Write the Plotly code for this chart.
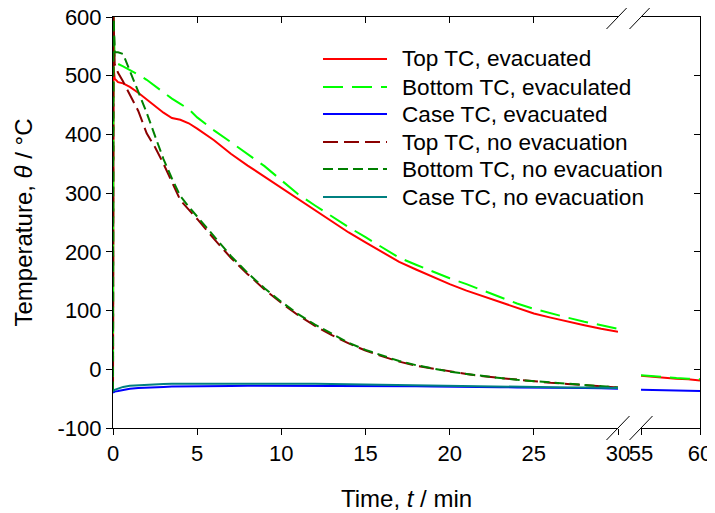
import plotly.graph_objects as go

# time axis (min) for the first 30 minutes
t_main = [0, 0.03, 0.1, 0.3, 0.6, 1, 1.5, 2, 2.5, 3, 3.5, 4, 4.5, 5, 6, 7, 8, 9, 10,
          11, 12, 13, 14, 15, 16, 17, 18, 19, 20, 21, 22, 23, 24, 25, 26, 27, 28, 29, 30]
# late readings after the break
t_late = [55, 56, 57, 58, 59, 60]

top_evac = [-38, 515, 495, 489, 487, 481, 471, 460, 449, 437, 428, 425, 419, 410, 390, 367, 347, 328, 308,
            290, 270, 251, 233, 216, 199, 183, 170, 157, 145, 134, 124, 114, 104, 95, 88, 81, 75, 69, 64]
bottom_evac = [-38, 610, 525, 520, 516, 510, 502, 493, 482, 471, 461, 452, 443, 429, 407, 387, 367, 346, 322,
               298, 279, 260, 242, 225, 207, 190, 178, 166, 155, 145, 134, 123, 112, 103, 95, 88, 81, 75, 69]
case_evac = [-40, -39, -38, -37, -35, -33, -32, -31, -30.5, -30, -29.5, -29.5, -29, -29, -28.5, -28.5, -28, -28, -28,
             -28, -28, -28.5, -28.5, -28.5, -29, -29, -29, -29.5, -29.5, -30, -30, -30.5, -31, -31, -31.5, -32, -32, -32.5, -33]
top_noevac = [-38, 610, 520, 505, 490, 468, 440, 402, 378, 350, 318, 288, 272, 256, 222, 190, 162, 136, 113,
              92, 74, 58, 44, 32, 22, 13, 6, 1, -4, -8, -12, -15, -18, -21, -23, -25, -27, -29, -31]
bottom_noevac = [-38, 610, 540, 540, 537, 508, 475, 437, 397, 358, 325, 295, 277, 260, 225, 193, 164, 138, 115,
                 94, 76, 60, 45, 33, 23, 14, 7, 1, -4, -8, -12, -15, -18, -20, -23, -25, -27, -29, -31]
case_noevac = [-38, -37, -35, -33, -30, -28, -27, -26, -25.5, -25, -24.5, -24.5, -24, -24, -24, -23.5, -23.5, -24, -24,
               -24.5, -24.5, -25, -25.5, -26, -26, -26.5, -27, -27.5, -28, -28.5, -29, -29.5, -30, -30, -30.5, -31, -31, -31.5, -32]

top_evac_late = [-11, -13, -14, -16, -17, -19]
bottom_evac_late = [-10, -12, -13, -15, -16, -17]
case_evac_late = [-35, -35.5, -36, -36, -36.5, -37]

y_ticks = [-100, 0, 100, 200, 300, 400, 500, 600]
y_ticktext = ["-100", "0", "100", "200", "300", "400", "500", "600"]
x_ticks = [0, 5, 10, 15, 20, 25, 30]
x_ticks_late = [55, 60]

names = ["Top TC, evacuated", "Bottom TC, evaculated", "Case TC, evacuated",
         "Top TC, no evacuation", "Bottom TC, no evacuation", "Case TC, no evacuation"]
colors = ["#ff0000", "#00ff00", "#0000ff", "#8b0000", "#008000", "#008080"]
dashes = ["solid", "20px,9px", "solid", "15px,6px", "10px,5px", "solid"]

FONT = "Liberation Sans, Arial, sans-serif"
FS = 22

main_series = [top_evac, bottom_evac, case_evac, top_noevac, bottom_noevac, case_noevac]
late_series = {0: top_evac_late, 1: bottom_evac_late, 2: case_evac_late}

fig = go.Figure()
for i, ys in enumerate(main_series):
    fig.add_trace(go.Scatter(x=t_main, y=ys, mode="lines", name=names[i], showlegend=False,
                             line=dict(color=colors[i], width=2, dash=dashes[i])))
for i, ys in late_series.items():
    fig.add_trace(go.Scatter(x=t_late, y=ys, mode="lines", name=names[i], showlegend=False,
                             xaxis="x2", yaxis="y2",
                             line=dict(color=colors[i], width=2, dash=dashes[i])))

# page body has an 8px margin, so the figure is shrunk to fit the window
OFF = 8
W, H = 715 - OFF, 513 - OFF
# plot area in screen pixels: left 113, right 700, top 17, bottom 428
L, R, T, B = 113, 700, 17, 428
def px(x):
    return (x - L) / (R - L)
def py(y):
    return (B - y) / (B - T)

split_a, split_b = px(618), px(641)

axis_common = dict(showgrid=False, zeroline=False, showline=True, linecolor="black", linewidth=1,
                   ticks="outside", ticklen=6, tickcolor="black", automargin=False,
                   ticklabeloverflow="allow",
                   tickfont=dict(family=FONT, size=FS, color="black"))

fig.update_layout(
    width=W, height=H,
    margin=dict(l=L - OFF, r=W - (R - OFF), t=T - OFF, b=H - (B - OFF)),
    paper_bgcolor="white", plot_bgcolor="white",
    xaxis=dict(domain=[0, split_a], range=[0, 30], tickvals=x_ticks,
               anchor="y", mirror=True, **axis_common),
    xaxis2=dict(domain=[split_b, 1], range=[55, 60], tickvals=x_ticks_late,
                anchor="y2", mirror=True, **axis_common),
    xaxis3=dict(overlaying="x", side="top", range=[0, 30], tickvals=x_ticks,
                showticklabels=False, ticks="inside", ticklen=6, tickcolor="black", automargin=False,
                showline=False, showgrid=False, zeroline=False, anchor="y"),
    yaxis=dict(domain=[0, 1], range=[-100, 600], tickvals=y_ticks, ticktext=y_ticktext,
               anchor="x", **axis_common),
    yaxis2=dict(domain=[0, 1], range=[-100, 600], tickvals=y_ticks,
                anchor="x2", side="right", showticklabels=False, showgrid=False, zeroline=False,
                showline=True, linecolor="black", linewidth=1, automargin=False,
                ticks="inside", ticklen=6, tickcolor="black"),
    showlegend=False,
)
# empty trace so the top tick axis is drawn
fig.add_trace(go.Scatter(x=[], y=[], xaxis="x3", yaxis="y", showlegend=False, hoverinfo="skip"))

# axis break marks
for xa in (split_a, split_b):
    for ya in (0, 1):
        fig.add_shape(type="line", xref="paper", yref="paper", xsizemode="pixel", ysizemode="pixel",
                      xanchor=xa, yanchor=ya, x0=-11.5, x1=11.5, y0=-12, y1=12,
                      line=dict(color="black", width=1))

# legend drawn inside the plot
legend_rows = [59, 87, 114, 142, 169, 197]
for i, row in enumerate(legend_rows):
    fig.add_shape(type="line", xref="paper", yref="paper", x0=px(323), x1=px(387), y0=py(row), y1=py(row),
                  line=dict(color=colors[i], width=2, dash=dashes[i]))
    fig.add_annotation(x=px(400), y=py(row), xref="paper", yref="paper", text=names[i], showarrow=False,
                       xanchor="left", yanchor="middle", font=dict(family=FONT, size=22.6, color="black"))

# axis titles
fig.add_annotation(x=0.5, y=py(498), xref="paper", yref="paper", text="Time, <i>t</i> / min",
                   showarrow=False, xanchor="center", yanchor="middle",
                   font=dict(family=FONT, size=24, color="black"))
fig.add_annotation(x=px(23), y=0.5, xref="paper", yref="paper", text="Temperature, <i>θ</i> / °C",
                   showarrow=False, textangle=-90, xanchor="center", yanchor="middle",
                   font=dict(family=FONT, size=24, color="black"))

fig.write_html("out.html")
